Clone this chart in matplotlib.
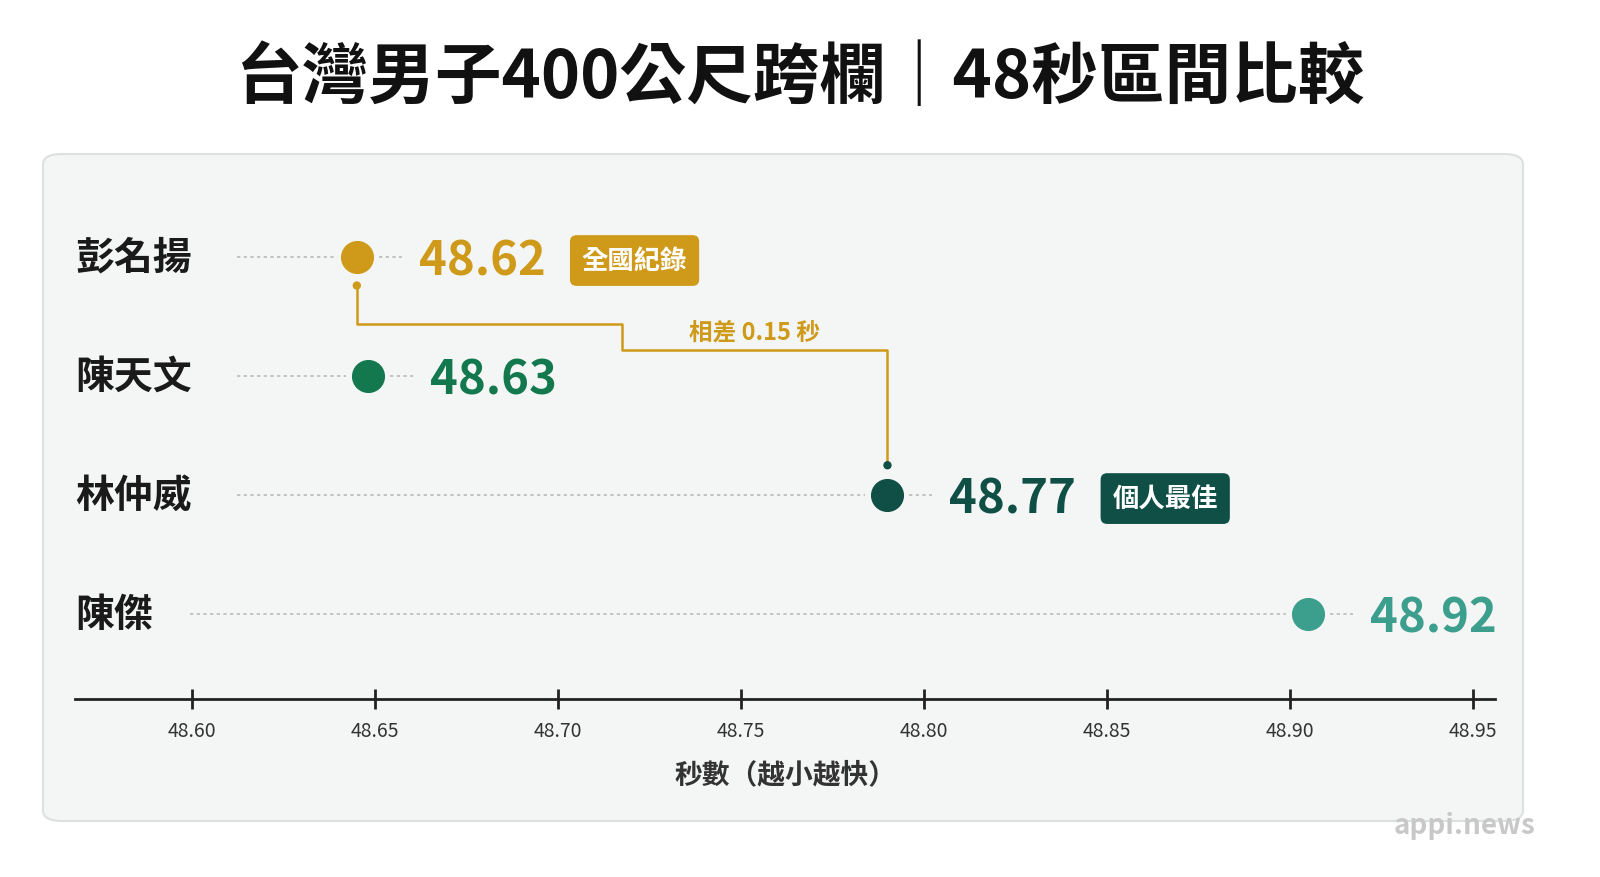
import matplotlib
matplotlib.use("Agg")
import matplotlib.pyplot as plt
from matplotlib.patches import FancyBboxPatch

plt.rcParams['font.family'] = ['Noto Sans CJK TC', 'DejaVu Sans']

# data
names = ['彭名揚', '陳天文', '林仲威', '陳傑']
times = ['48.62', '48.63', '48.77', '48.92']
dot_pos = [48.645, 48.648, 48.790, 48.905]   # where the dots sit on the axis
colors = ['#CF9A1A', '#13784E', '#0F4F45', '#3C9E8C']
badges = {0: '全國紀錄', 2: '個人最佳'}
ticks = [48.60, 48.65, 48.70, 48.75, 48.80, 48.85, 48.90, 48.95]

W, H = 1600, 878
fig = plt.figure(figsize=(16, 8.78), dpi=100, facecolor='white')

# background panel
panel = FancyBboxPatch((43 / W, (H - 822) / H), 1480 / W, 667 / H,
                       boxstyle='round,pad=0,rounding_size=0.012',
                       transform=fig.transFigure, facecolor='#F4F6F5',
                       edgecolor='#DCE0DE', lw=1.5, zorder=-5)
fig.patches.append(panel)

fig.text(0.5, (H - 78) / H, '台灣男子400公尺跨欄｜48秒區間比較', ha='center', va='center',
         fontsize=48, fontweight='bold', color='#111111')

ax = fig.add_axes([75 / W, (H - 700) / H, 1420 / W, 500 / H])
ax.set_zorder(2)
ax.set_facecolor('none')
ax.set_xlim(48.568, 48.956)
ax.set_ylim(3.714, -0.487)
for s in ['top', 'right', 'left']:
    ax.spines[s].set_visible(False)
ax.spines['bottom'].set_linewidth(2)
ax.spines['bottom'].set_color('#222222')
ax.set_yticks([])
ax.set_xticks(ticks)
ax.set_xticklabels([f'{t:.2f}' for t in ticks], fontsize=14, color='#333333')
ax.tick_params(axis='x', direction='inout', length=14, width=2, color='#222222', pad=8)
ax.set_xlabel('秒數（越小越快）', fontsize=20, fontweight='bold', color='#333333', labelpad=14)

xmin = ax.get_xlim()[0]
px = (ax.get_xlim()[1] - xmin) / 1420  # data units per pixel
name_end = [237, 237, 237, 190]
for i, (n, t, x, c) in enumerate(zip(names, times, dot_pos, colors)):
    ax.text(xmin, i, n, ha='left', va='center', fontsize=28, fontweight='bold', color='#1a1a1a')
    ax.plot([xmin + (name_end[i] - 75) * px, x - 22 * px], [i, i], ls=(0, (2, 2)),
            color='#BBBBBB', lw=1.2)
    ax.plot([x + 22 * px, x + 45 * px], [i, i], ls=(0, (2, 2)), color='#BBBBBB', lw=1.2)
    ax.scatter([x], [i], s=520, color=c, zorder=5)
    ax.text(x + 62 * px, i + 0.03, t, ha='left', va='center', fontsize=34,
            fontweight='bold', color=c)
    if i in badges:
        ax.text(x + 225 * px, i + 0.03, badges[i], ha='left', va='center', fontsize=19,
                fontweight='bold', color='white',
                bbox=dict(boxstyle='round,pad=0.45,rounding_size=0.25', fc=c, ec='none'))

# connector between record and personal best
y_step1, y_step2 = 0.56, 0.78
xm = xmin + (622 - 75) * px
gold = colors[0]
ax.plot([dot_pos[0], dot_pos[0], xm, xm, dot_pos[2], dot_pos[2]],
        [0.24, y_step1, y_step1, y_step2, y_step2, 1.75], color=gold, lw=1.8)
ax.scatter([dot_pos[0], dot_pos[2]], [0.24, 1.75], s=25, color=[gold, colors[2]], zorder=6)
ax.text((xm + dot_pos[2]) / 2, 0.63, '相差 0.15 秒', ha='center', va='center',
        fontsize=17, fontweight='bold', color=gold)

fig.text(1535 / W, (H - 826) / H, 'appi.news', ha='right', va='center', fontsize=20,
         fontweight='bold', color='#C8C8C8')

fig.savefig('out.png', dpi=100, facecolor='white')
